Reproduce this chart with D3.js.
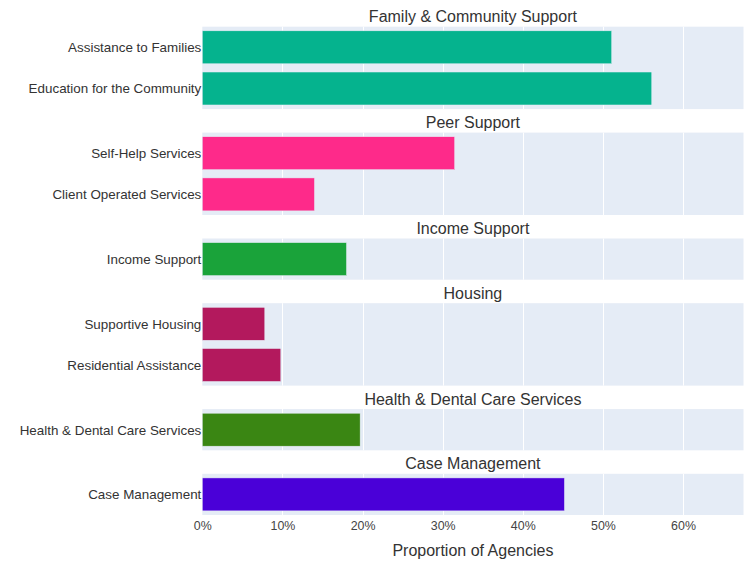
<!DOCTYPE html>
<html>
<head>
<meta charset="utf-8">
<script src="https://cdn.jsdelivr.net/npm/d3@7"></script>
<style>
  html, body { margin: 0; padding: 0; background: #fff; }
  svg { display: block; font-family: "Liberation Sans", Arial, sans-serif; }
</style>
</head>
<body>
<svg id="chart" width="751" height="561"></svg>
<script>
// ---- data ----
const groups = ["Family & Community Support", "Peer Support", "Income Support", "Housing", "Health & Dental Care Services", "Case Management"];
const groupColors = ["#05B38E", "#FE2A8A", "#1AA33A", "#B3195D", "#3A8613", "#4A00D8"];
const categories = ["Assistance to Families", "Education for the Community", "Self-Help Services", "Client Operated Services", "Income Support", "Supportive Housing", "Residential Assistance", "Health & Dental Care Services", "Case Management"];
const categoryGroup = [0, 0, 1, 1, 2, 3, 3, 4, 5];
const values = [0.511, 0.561, 0.315, 0.140, 0.180, 0.078, 0.098, 0.197, 0.452];
const xTicks = [0, 0.1, 0.2, 0.3, 0.4, 0.5, 0.6];
const xMax = 0.6755;
const xTitle = "Proportion of Agencies";

// ---- layout ----
const svg = d3.select("#chart");
const left = 202.3, right = 743.5;
const top0 = 26.7, unit = 41.2, gap = 23.5;
const textColor = "#333";

const x = d3.scaleLinear().domain([0, xMax]).range([left, right]);

let cursor = top0;
let lastBottom = 0;
groups.forEach((g, gi) => {
  const cats = categories.filter((c, i) => categoryGroup[i] === gi);
  const h = cats.length * unit;
  const y = d3.scaleBand().domain(cats).range([cursor, cursor + h]).paddingInner(0.2).paddingOuter(0.1);
  const panel = svg.append("g");

  panel.append("rect")
    .attr("x", left).attr("y", cursor)
    .attr("width", right - left).attr("height", h)
    .attr("fill", "#E5ECF6");

  panel.selectAll("line.grid").data(xTicks.filter(t => t > 0)).join("line")
    .attr("class", "grid")
    .attr("x1", d => Math.round(x(d)) + 0.5).attr("x2", d => Math.round(x(d)) + 0.5)
    .attr("y1", cursor).attr("y2", cursor + h)
    .attr("stroke", "#fff").attr("stroke-width", 1);

  const rows = categories.map((c, i) => ({c, v: values[i], g: categoryGroup[i]})).filter(d => d.g === gi);
  panel.selectAll("rect.bar").data(rows).join("rect")
    .attr("class", "bar")
    .attr("x", x(0)).attr("y", d => y(d.c))
    .attr("width", d => x(d.v) - x(0)).attr("height", y.bandwidth())
    .attr("fill", groupColors[gi])
    .attr("stroke", "#E5ECF6").attr("stroke-width", 0.5);

  const yAxis = panel.append("g")
    .attr("transform", `translate(${left - 1},0.6)`)
    .call(d3.axisLeft(y).tickSize(0).tickPadding(0));
  yAxis.select(".domain").remove();
  yAxis.selectAll("text").attr("fill", textColor).attr("font-size", 13.4)
    .attr("font-family", "'Liberation Sans', Arial, sans-serif");

  svg.append("text")
    .attr("x", (left + right) / 2).attr("y", cursor - 4.5)
    .attr("text-anchor", "middle")
    .attr("font-size", 16).attr("fill", textColor)
    .text(g);

  lastBottom = cursor + h;
  cursor += h + gap;
});

const xAxis = svg.append("g")
  .attr("transform", `translate(0,${lastBottom})`)
  .call(d3.axisBottom(x).tickValues(xTicks).tickFormat(d3.format(".0%")).tickSize(0).tickPadding(6));
xAxis.select(".domain").remove();
xAxis.selectAll("text").attr("fill", "#444").attr("font-size", 12.4)
  .attr("font-family", "'Liberation Sans', Arial, sans-serif");

svg.append("text")
  .attr("x", (left + right) / 2).attr("y", 556)
  .attr("text-anchor", "middle")
  .attr("font-size", 16).attr("fill", textColor)
  .text(xTitle);
</script>
</body>
</html>
